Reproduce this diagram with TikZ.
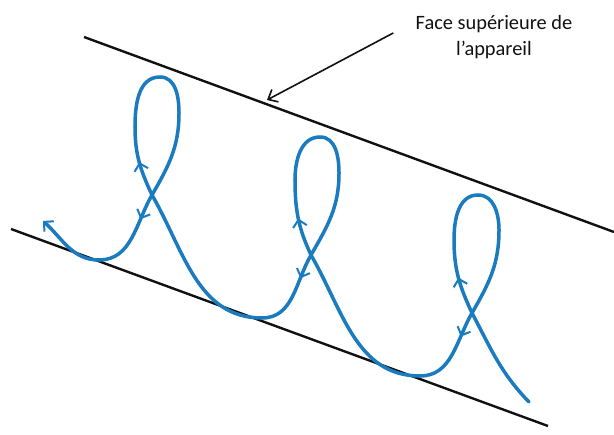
\documentclass[tikz,border=0pt]{standalone}
\usepackage{fontspec}
\setmainfont{Carlito}
\usetikzlibrary{arrows.meta,decorations.markings}
\definecolor{Ink}{HTML}{111111}
\definecolor{Loop}{HTML}{1A7BBF}

\begin{document}
\begin{tikzpicture}[x=0.5pt,y=0.5pt,
  edge/.style={Ink,line width=1.2pt},
  curve/.style={Loop,line width=1.75pt,line cap=round},
  midtip/.style={postaction={decorate},decoration={markings,
    mark=at position #1 with {\arrow{Straight Barb[length=3.4pt,width=7pt,line width=1pt]}}}}]
\useasboundingbox (0,0) rectangle (614,434);
\draw[edge] (84,397) -- (614,202);
\draw[edge] (11,205) -- (548,8);
\node[align=center,font=\fontsize{10.2}{13}\selectfont,text=Ink,inner sep=0pt] (lbl) at (494,397) {Face supérieure de\\l’appareil};
\coordinate (tip) at (267,334);
\draw[-{Straight Barb[length=4pt,width=7pt]},Ink,line width=0.8pt] ([xshift=-11pt,yshift=2pt]lbl.west) -- (tip);
\coordinate (s) at (529,32);
\coordinate (c3) at (472,121);
\coordinate (l3) at (454,194);
\coordinate (t3) at (478,239);
\coordinate (r3) at (499,204);
\coordinate (m3) at (420,58);
\coordinate (c2) at (311,179);
\coordinate (l2) at (295,254);
\coordinate (t2) at (320,297);
\coordinate (r2) at (339,261);
\coordinate (m2) at (262,116);
\coordinate (c1) at (152,239);
\coordinate (l1) at (135,307);
\coordinate (t1) at (160,357);
\coordinate (r1) at (179,321);
\coordinate (m1) at (99,174);
\coordinate (e) at (43,213);
\draw[curve] (s) to[out=134,in=-62] (c3);
\draw[curve,midtip=0.5] (c3) to[out=115,in=-90] (l3);
\draw[curve] (l3) to[out=90,in=180] (t3) to[out=0,in=90] (r3) to[out=-90,in=60] (c3);
\draw[curve,midtip=0.3] (c3) to[out=-120,in=0] (m3);
\draw[curve] (m3) to[out=180,in=-60] (c2);
\draw[curve,midtip=0.5] (c2) to[out=115,in=-90] (l2);
\draw[curve] (l2) to[out=90,in=180] (t2) to[out=0,in=90] (r2) to[out=-90,in=60] (c2);
\draw[curve,midtip=0.3] (c2) to[out=-120,in=0] (m2);
\draw[curve] (m2) to[out=180,in=-60] (c1);
\draw[curve,midtip=0.5] (c1) to[out=115,in=-90] (l1);
\draw[curve] (l1) to[out=90,in=180] (t1) to[out=0,in=90] (r1) to[out=-90,in=60] (c1);
\draw[curve,midtip=0.3] (c1) to[out=-120,in=0] (m1);
\draw[curve,-{Straight Barb[length=3.4pt,width=7pt,line width=1pt]}] (m1) to[out=180,in=-42] (e);
\end{tikzpicture}
\end{document}
